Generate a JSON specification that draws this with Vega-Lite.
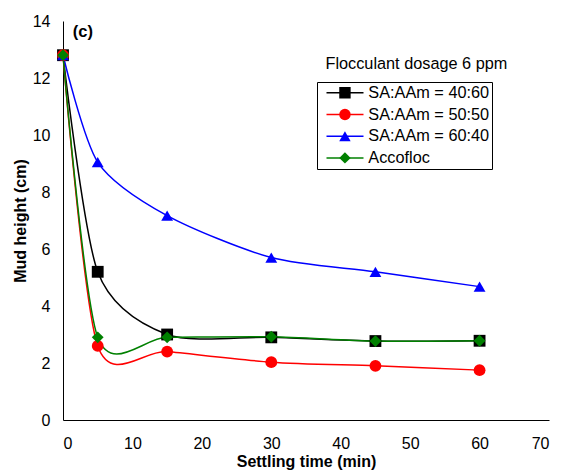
{
  "$schema": "https://vega.github.io/schema/vega-lite/v6.json",
  "width": 486,
  "height": 399,
  "autosize": {"type": "none"},
  "padding": {"left": 63, "top": 21, "right": 12, "bottom": 51},
  "background": "white",
  "config": {
    "view": {"stroke": null},
    "font": "Liberation Sans",
    "axis": {
      "grid": false,
      "ticks": false,
      "tickSize": 0,
      "domainColor": "black",
      "domainWidth": 1,
      "labelColor": "black",
      "labelFont": "Liberation Sans",
      "labelFontSize": 16,
      "titleColor": "black",
      "titleFont": "Liberation Sans",
      "titleFontSize": 16,
      "titleFontWeight": "bold"
    }
  },
  "datasets": {
    "series": [
      {"series": "SA:AAm = 40:60", "time": 0, "height": 12.8},
      {"series": "SA:AAm = 40:60", "time": 5, "height": 5.2},
      {"series": "SA:AAm = 40:60", "time": 15, "height": 3.0},
      {"series": "SA:AAm = 40:60", "time": 30, "height": 2.9},
      {"series": "SA:AAm = 40:60", "time": 45, "height": 2.77},
      {"series": "SA:AAm = 40:60", "time": 60, "height": 2.78},
      {"series": "SA:AAm = 50:50", "time": 0, "height": 12.8},
      {"series": "SA:AAm = 50:50", "time": 5, "height": 2.6},
      {"series": "SA:AAm = 50:50", "time": 15, "height": 2.4},
      {"series": "SA:AAm = 50:50", "time": 30, "height": 2.03},
      {"series": "SA:AAm = 50:50", "time": 45, "height": 1.9},
      {"series": "SA:AAm = 50:50", "time": 60, "height": 1.75},
      {"series": "SA:AAm = 60:40", "time": 0, "height": 12.8},
      {"series": "SA:AAm = 60:40", "time": 5, "height": 9.05},
      {"series": "SA:AAm = 60:40", "time": 15, "height": 7.17},
      {"series": "SA:AAm = 60:40", "time": 30, "height": 5.7},
      {"series": "SA:AAm = 60:40", "time": 45, "height": 5.2},
      {"series": "SA:AAm = 60:40", "time": 60, "height": 4.68},
      {"series": "Accofloc", "time": 0, "height": 12.8},
      {"series": "Accofloc", "time": 5, "height": 2.9},
      {"series": "Accofloc", "time": 15, "height": 2.9},
      {"series": "Accofloc", "time": 30, "height": 2.92},
      {"series": "Accofloc", "time": 45, "height": 2.77},
      {"series": "Accofloc", "time": 60, "height": 2.78}
    ],
    "panel": [
      {"time": 1.4, "height": 13.6, "label": "(c)"}
    ],
    "note": [
      {"time": 50.9, "height": 12.49, "label": "Flocculant dosage 6 ppm"}
    ]
  },
  "layer": [
    {
      "data": {"name": "series"},
      "mark": {"type": "line", "interpolate": "cardinal", "tension": 0.2, "strokeWidth": 1.5},
      "encoding": {
        "x": {
          "field": "time", "type": "quantitative",
          "scale": {"domain": [0, 70], "nice": false},
          "axis": {"title": "Settling time (min)", "values": [0, 10, 20, 30, 40, 50, 60, 70], "labelPadding": 15, "titlePadding": 2}
        },
        "y": {
          "field": "height", "type": "quantitative",
          "scale": {"domain": [0, 14], "nice": false},
          "axis": {"title": "Mud height (cm)", "values": [0, 2, 4, 6, 8, 10, 12, 14], "labelPadding": 13, "titlePadding": 4}
        },
        "stroke": {
          "field": "series", "type": "nominal",
          "sort": ["SA:AAm = 40:60", "SA:AAm = 50:50", "SA:AAm = 60:40", "Accofloc"],
          "scale": {"range": ["#000000", "#FF0000", "#0000FF", "#008000"]},
          "legend": {
            "title": null,
            "orient": "none",
            "legendX": 254,
            "legendY": 61,
            "padding": 2.8,
            "strokeColor": "black",
            "fillColor": "white",
            "symbolType": "stroke",
            "symbolSize": 1369,
            "symbolStrokeWidth": 1.5,
            "clipHeight": 16,
            "rowPadding": 4.7,
            "symbolOffset": 5.7,
            "labelOffset": 3.8,
            "labelFont": "Liberation Sans",
            "labelFontSize": 16.3,
            "labelColor": "black",
            "labelExpr": "datum.label + '     '"
          }
        }
      }
    },
    {
      "data": {"name": "series"},
      "mark": {"type": "point", "filled": true, "opacity": 1, "size": 140},
      "encoding": {
        "x": {"field": "time", "type": "quantitative"},
        "y": {"field": "height", "type": "quantitative"},
        "color": {
          "field": "series", "type": "nominal",
          "scale": {"domain": ["SA:AAm = 40:60", "SA:AAm = 50:50", "SA:AAm = 60:40", "Accofloc"], "range": ["#000000", "#FF0000", "#0000FF", "#008000"]},
          "legend": {
            "title": null,
            "orient": "none",
            "legendX": 254,
            "legendY": 61,
            "padding": 2.8,
            "symbolSize": 130,
            "symbolStrokeWidth": 0,
            "clipHeight": 16,
            "rowPadding": 4.7,
            "symbolOffset": 17,
            "labelOffset": 3.8,
            "labelFont": "Liberation Sans",
            "labelFontSize": 16.3,
            "labelColor": "transparent"
          }
        },
        "shape": {
          "field": "series", "type": "nominal",
          "scale": {"domain": ["SA:AAm = 40:60", "SA:AAm = 50:50", "SA:AAm = 60:40", "Accofloc"], "range": ["square", "circle", "triangle-up", "diamond"]}
        }
      }
    },
    {
      "data": {"name": "panel"},
      "mark": {"type": "text", "fontSize": 16.5, "fontWeight": "bold", "align": "left", "baseline": "middle", "color": "black", "font": "Liberation Sans"},
      "encoding": {
        "x": {"field": "time", "type": "quantitative"},
        "y": {"field": "height", "type": "quantitative"},
        "text": {"field": "label"}
      }
    },
    {
      "data": {"name": "note"},
      "mark": {"type": "text", "fontSize": 16.3, "align": "center", "baseline": "middle", "color": "black", "font": "Liberation Sans"},
      "encoding": {
        "x": {"field": "time", "type": "quantitative"},
        "y": {"field": "height", "type": "quantitative"},
        "text": {"field": "label"}
      }
    }
  ]
}
